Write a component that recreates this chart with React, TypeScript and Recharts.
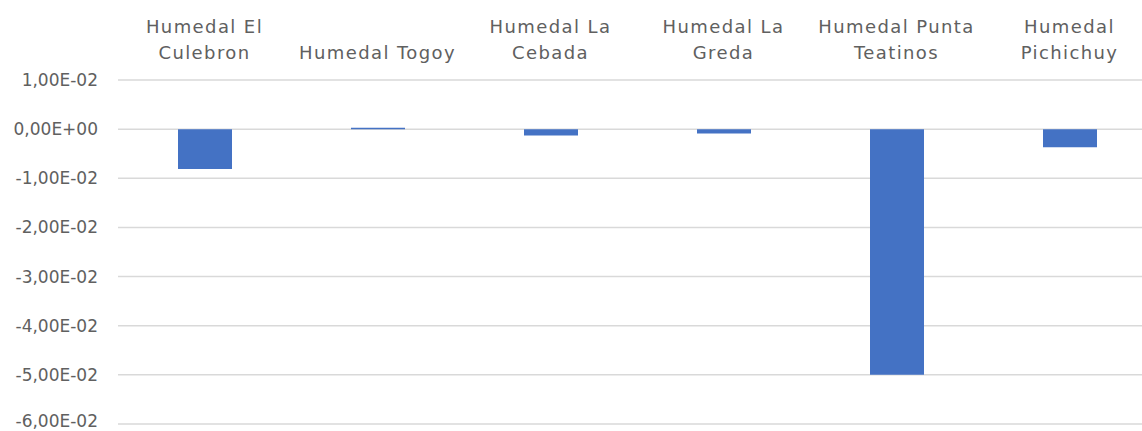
import { BarChart, Bar, XAxis, YAxis, CartesianGrid } from "recharts";

const categories = [
  "Humedal El Culebron",
  "Humedal Togoy",
  "Humedal La Cebada",
  "Humedal La Greda",
  "Humedal Punta Teatinos",
  "Humedal Pichichuy",
];
// como se parte cada etiqueta en el eje superior
const labelLines = [
  ["Humedal El", "Culebron"],
  ["", "Humedal Togoy"],
  ["Humedal La", "Cebada"],
  ["Humedal La", "Greda"],
  ["Humedal Punta", "Teatinos"],
  ["Humedal", "Pichichuy"],
];
const values = [-0.0081, 0.0003, -0.0013, -0.0009, -0.0500, -0.0037];
const yTicks = [0.01, 0, -0.01, -0.02, -0.03, -0.04, -0.05, -0.06];

const data = categories.map((name, i) => ({ name, value: values[i] }));

const FONT = "'DejaVu Sans', sans-serif";
const TEXT = "#606060";

// 0.01 -> "1,00E-02"
function sci(v: number): string {
  const [m, e] = v.toExponential(2).split("e");
  const exp = Number(e);
  const sign = exp < 0 ? "-" : "+";
  return `${m.replace(".", ",")}E${sign}${String(Math.abs(exp)).padStart(2, "0")}`;
}

function TopTick(props: any) {
  const { x, index } = props;
  const lines = labelLines[index] ?? ["", ""];
  return (
    <text x={x} textAnchor="middle" fill={TEXT} fontSize={18} letterSpacing={1.4} fontFamily={FONT}>
      <tspan x={x} y={33}>{lines[0]}</tspan>
      <tspan x={x} y={59}>{lines[1]}</tspan>
    </text>
  );
}

export default function App() {
  return (
    <div style={{ width: 1142, height: 431, background: "#fff", overflow: "hidden" }}>
      <style>{"body{margin:0}"}</style>
      <BarChart
        width={1142}
        height={431}
        data={data}
        margin={{ top: 0, right: -14, left: 0, bottom: 7 }}
      >
        <CartesianGrid vertical={false} stroke="#d9d9d9" strokeWidth={1.5} />
        <XAxis
          dataKey="name"
          orientation="top"
          height={80}
          axisLine={false}
          tickLine={false}
          interval={0}
          tick={<TopTick />}
        />
        <YAxis
          type="number"
          domain={[-0.06, 0.01]}
          ticks={yTicks}
          width={118}
          axisLine={false}
          tickLine={false}
          tickMargin={14}
          tickFormatter={sci}
          tick={{ fill: TEXT, fontSize: 17, fontFamily: FONT }}
        />
        <Bar dataKey="value" fill="#4472C4" barSize={54} isAnimationActive={false} />
      </BarChart>
    </div>
  );
}
